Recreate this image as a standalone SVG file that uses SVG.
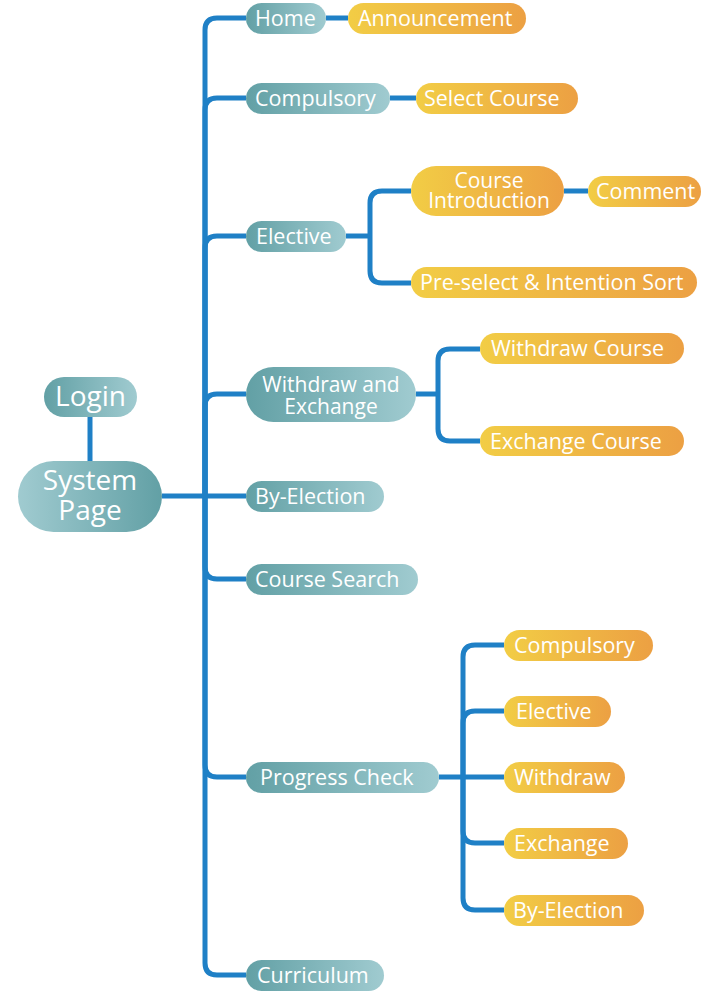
<svg xmlns="http://www.w3.org/2000/svg" width="701" height="994" viewBox="0 0 701 994">
<defs>
<linearGradient id="teal" x1="0" y1="0" x2="1" y2="0">
<stop offset="0" stop-color="#62a0a5"/>
<stop offset="1" stop-color="#a0cbd0"/>
</linearGradient>
<linearGradient id="tealR" x1="0" y1="0" x2="1" y2="0">
<stop offset="0" stop-color="#a0cbd0"/>
<stop offset="1" stop-color="#62a0a5"/>
</linearGradient>
<linearGradient id="orange" x1="0" y1="0" x2="1" y2="0">
<stop offset="0" stop-color="#f2cd45"/>
<stop offset="1" stop-color="#eca043"/>
</linearGradient>
<style>
.t{fill:url(#teal)}
.o{fill:url(#orange)}
text{font-family:"Open Sans","Noto Sans",sans-serif;fill:#ffffff;font-size:21.5px}
.c{text-anchor:middle}
.big{font-size:28px}
.two{font-size:21px}
.ln{fill:none;stroke:#1f80c6;stroke-width:5;stroke-linejoin:round}
</style>
</defs>
<g id="connectors" class="ln">
<path d="M90,417 V461"/>
<path d="M162,496 H246"/>
<path d="M205,496 V30 Q205,18 217,18 H246"/>
<path d="M205,496 V110 Q205,98 217,98 H246"/>
<path d="M205,496 V248 Q205,236 217,236 H246"/>
<path d="M205,496 V406 Q205,394 217,394 H246"/>
<path d="M205,496 V567 Q205,579 217,579 H246"/>
<path d="M205,496 V765 Q205,777 217,777 H246"/>
<path d="M205,496 V963 Q205,975 217,975 H246"/>
<path d="M326,18 H348"/>
<path d="M390,98 H416"/>
<path d="M346,236 H370"/>
<path d="M370,236 V203 Q370,191 382,191 H411"/>
<path d="M370,236 V271 Q370,283 382,283 H411"/>
<path d="M564,191 H588"/>
<path d="M416,394 H438"/>
<path d="M438,394 V361 Q438,349 450,349 H480"/>
<path d="M438,394 V429 Q438,441 450,441 H480"/>
<path d="M439,777 H504"/>
<path d="M463,777 V657 Q463,645 475,645 H504"/>
<path d="M463,777 V723 Q463,711 475,711 H504"/>
<path d="M463,777 V831 Q463,843 475,843 H504"/>
<path d="M463,777 V898 Q463,910 475,910 H504"/>
</g>
<g id="login"><rect class="t" x="44" y="377" width="93" height="40" rx="20"/><text x="90.5" y="406" class="c big">Login</text></g>
<g id="system-page"><rect x="18" y="461" width="144" height="71" rx="35.5" fill="url(#tealR)"/><text x="90" y="490" class="c big">System</text><text x="90" y="520" class="c big">Page</text></g>
<g id="home"><rect class="t" x="246" y="3" width="80" height="31" rx="15.5"/><text x="255" y="26">Home</text></g>
<g id="announcement"><rect class="o" x="348" y="3" width="178" height="31" rx="15.5"/><text x="358" y="26">Announcement</text></g>
<g id="compulsory"><rect class="t" x="246" y="83" width="144" height="31" rx="15.5"/><text x="255" y="106">Compulsory</text></g>
<g id="select-course"><rect class="o" x="416" y="83" width="162" height="31" rx="15.5"/><text x="424" y="106">Select Course</text></g>
<g id="elective"><rect class="t" x="246" y="221" width="100" height="31" rx="15.5"/><text x="256" y="244">Elective</text></g>
<g id="course-introduction"><rect class="o" x="411" y="166" width="153" height="50" rx="25"/><text x="489" y="188" class="c two">Course</text><text x="489" y="208" class="c two">Introduction</text></g>
<g id="comment"><rect class="o" x="588" y="176" width="113" height="31" rx="15.5"/><text x="596" y="199">Comment</text></g>
<g id="preselect"><rect class="o" x="411" y="267" width="286" height="31" rx="15.5"/><text x="420" y="290">Pre-select &amp; Intention Sort</text></g>
<g id="withdraw-exchange"><rect class="t" x="246" y="367" width="170" height="55" rx="27.5"/><text x="331" y="392" class="c two">Withdraw and</text><text x="331" y="414" class="c two">Exchange</text></g>
<g id="withdraw-course"><rect class="o" x="480" y="333" width="204" height="31" rx="15.5"/><text x="491" y="356">Withdraw Course</text></g>
<g id="exchange-course"><rect class="o" x="480" y="426" width="204" height="30" rx="15"/><text x="490" y="449">Exchange Course</text></g>
<g id="by-election"><rect class="t" x="246" y="481" width="138" height="31" rx="15.5"/><text x="255" y="504">By-Election</text></g>
<g id="course-search"><rect class="t" x="246" y="564" width="172" height="31" rx="15.5"/><text x="255" y="587">Course Search</text></g>
<g id="progress-check"><rect class="t" x="246" y="762" width="193" height="31" rx="15.5"/><text x="260" y="785">Progress Check</text></g>
<g id="curriculum"><rect class="t" x="246" y="960" width="138" height="31" rx="15.5"/><text x="257" y="983">Curriculum</text></g>
<g id="pc-compulsory"><rect class="o" x="504" y="630" width="149" height="31" rx="15.5"/><text x="514" y="653">Compulsory</text></g>
<g id="pc-elective"><rect class="o" x="504" y="696" width="107" height="31" rx="15.5"/><text x="516" y="719">Elective</text></g>
<g id="pc-withdraw"><rect class="o" x="504" y="762" width="121" height="31" rx="15.5"/><text x="514" y="785">Withdraw</text></g>
<g id="pc-exchange"><rect class="o" x="504" y="828" width="124" height="31" rx="15.5"/><text x="514" y="851">Exchange</text></g>
<g id="pc-by-election"><rect class="o" x="504" y="895" width="140" height="31" rx="15.5"/><text x="513" y="918">By-Election</text></g>
</svg>
